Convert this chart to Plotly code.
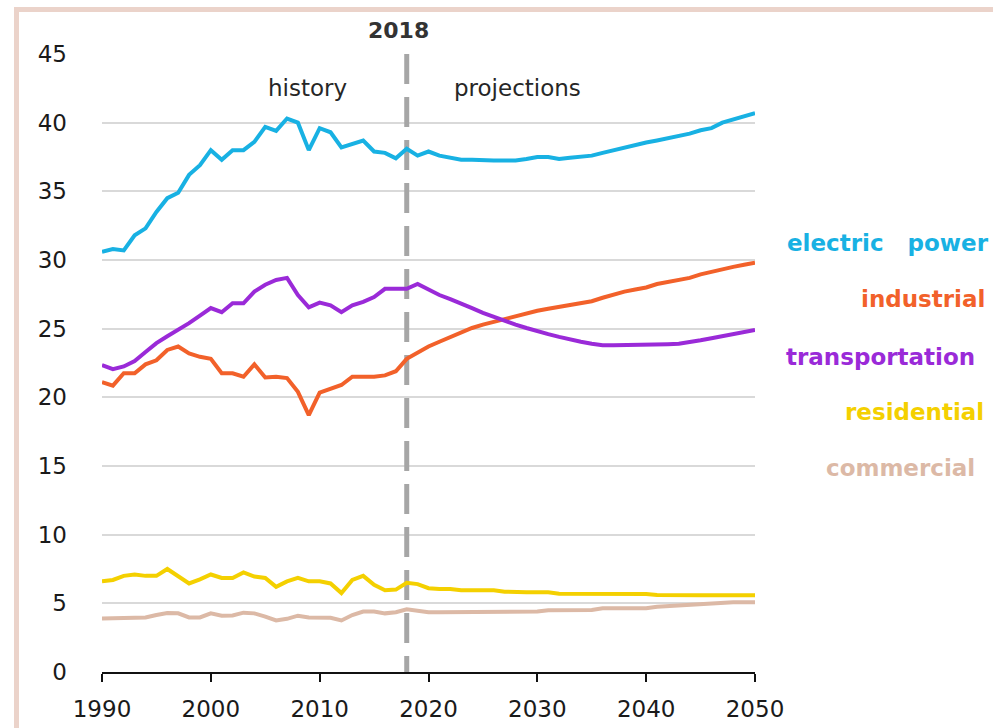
import plotly.graph_objects as go

# Energy-related CO2 emissions by end-use sector, 1990-2050
years = list(range(1990, 2051))
BASE_YEAR = 2018

electric_power = [
    30.6, 30.8, 30.7, 31.8, 32.3, 33.5, 34.5, 34.9, 36.2, 36.9,
    38.0, 37.3, 38.0, 38.0, 38.6, 39.7, 39.4, 40.3, 40.0, 38.0,
    39.6, 39.3, 38.2, 38.45, 38.7, 37.9, 37.8, 37.4, 38.1, 37.6,
    37.9, 37.6, 37.45, 37.3, 37.3, 37.25, 37.25, 37.25, 37.25, 37.35,
    37.5, 37.5, 37.35, 37.45, 37.5, 37.6, 37.8, 38.0, 38.15, 38.35,
    38.55, 38.7, 38.85, 39.0, 39.2, 39.45, 39.6, 40.0, 40.25, 40.45,
    40.7,
]
industrial = [
    21.1, 20.85, 21.75, 21.75, 22.4, 22.7, 23.45, 23.7, 23.2, 22.95,
    22.8, 21.75, 21.75, 21.5, 22.4, 21.45, 21.5, 21.4, 20.4, 18.7,
    20.35, 20.6, 20.9, 21.5, 21.5, 21.5, 21.6, 21.9, 22.8, 23.25,
    23.7, 24.05, 24.4, 24.7, 25.05, 25.3, 25.5, 25.7, 25.95, 26.1,
    26.3, 26.45, 26.6, 26.75, 26.85, 27.0, 27.25, 27.5, 27.7, 27.85,
    28.0, 28.25, 28.4, 28.55, 28.7, 28.95, 29.15, 29.3, 29.5, 29.65,
    29.8,
]
transportation = [
    22.35, 22.05, 22.25, 22.65, 23.3, 23.95, 24.45, 24.9, 25.4, 25.95,
    26.5, 26.2, 26.85, 26.85, 27.7, 28.2, 28.55, 28.7, 27.45, 26.55,
    26.9, 26.7, 26.2, 26.7, 26.95, 27.3, 27.9, 27.9, 27.9, 28.25,
    27.85, 27.45, 27.15, 26.85, 26.5, 26.15, 25.85, 25.55, 25.3, 25.05,
    24.8, 24.6, 24.4, 24.2, 24.05, 23.9, 23.8, 23.8, 23.8, 23.8,
    23.8, 23.8, 23.87, 23.9, 24.0, 24.15, 24.3, 24.45, 24.6, 24.75,
    24.9,
]
residential = [
    6.6, 6.7, 7.0, 7.1, 7.0, 7.0, 7.5, 6.95, 6.45, 6.75,
    7.1, 6.85, 6.85, 7.25, 6.95, 6.85, 6.2, 6.6, 6.85, 6.6,
    6.6, 6.45, 5.75, 6.7, 7.0, 6.35, 5.95, 6.0, 6.5, 6.4,
    6.1, 6.05, 6.05, 5.95, 5.95, 5.95, 5.95, 5.85, 5.8, 5.8,
    5.8, 5.8, 5.7, 5.7, 5.68, 5.68, 5.68, 5.68, 5.68, 5.68,
    5.68, 5.6, 5.58, 5.58, 5.58, 5.58, 5.58, 5.58, 5.58, 5.58,
    5.58,
]
commercial = [
    3.9, 3.9, 3.95, 3.97, 3.97, 4.15, 4.3, 4.27, 3.97, 3.97,
    4.27, 4.1, 4.12, 4.32, 4.27, 4.03, 3.75, 3.87, 4.1, 3.97,
    3.97, 3.95, 3.75, 4.15, 4.4, 4.4, 4.27, 4.35, 4.56, 4.45,
    4.35, 4.35, 4.35, 4.35, 4.35, 4.35, 4.35, 4.35, 4.35, 4.37,
    4.4, 4.5, 4.52, 4.52, 4.52, 4.52, 4.64, 4.64, 4.64, 4.64,
    4.64, 4.75, 4.8, 4.85, 4.92, 4.94, 4.95, 5.03, 5.08, 5.08,
    5.08,
]

sector_names = ["electric\u00a0\u00a0\u00a0power", "industrial", "transportation",
                "residential", "commercial"]
sector_values = [electric_power, industrial, transportation, residential, commercial]
sector_colors = ["#18b1e3", "#f2612a", "#9a2ad8", "#f4d000", "#dcb9a6"]
# label centres on the right-hand side, in pixels of the 993x728 page
label_px = [(888, 243), (923, 299), (880, 357), (915, 412), (900, 468)]

x_ticks = list(range(1990, 2051, 10))
y_ticks = list(range(0, 46, 5))

W, H = 993, 728
ML, MR, MT, MB = 102, 238, 54, 56
PW, PH = W - ML - MR, H - MT - MB


def paper_x(px):
    return (px - ML) / PW


def paper_y(py):
    return (H - MB - py) / PH


FONT = "DejaVu Sans"

fig = go.Figure()
for name, vals, col in zip(sector_names, sector_values, sector_colors):
    fig.add_trace(go.Scatter(
        x=years, y=vals, mode="lines", name=name,
        line=dict(color=col, width=4), hoverinfo="x+y+name",
    ))

# history / projections divider
fig.add_shape(type="line", xref="x", yref="y", x0=BASE_YEAR, x1=BASE_YEAR,
              y0=45, y1=0, layer="between",
              line=dict(color="#a6a6a6", width=5, dash="30px,13px"))

# light frame along the top and left edges of the page
fig.add_shape(type="rect", xref="paper", yref="paper",
              x0=paper_x(16.5), x1=paper_x(1020), y0=paper_y(9.5), y1=paper_y(760),
              line=dict(color="#ebd3ca", width=5), fillcolor="rgba(0,0,0,0)",
              layer="above")

ann = []
for name, col, (px, py) in zip(sector_names, sector_colors, label_px):
    ann.append(dict(text=f"<b>{name}</b>", xref="paper", yref="paper",
                    x=paper_x(px), y=paper_y(py), xanchor="center", yanchor="middle",
                    showarrow=False, font=dict(family=FONT, size=23, color=col)))
ann.append(dict(text="history", xref="paper", yref="paper",
                x=paper_x(307.5), y=paper_y(88), xanchor="center", yanchor="middle",
                showarrow=False, font=dict(family=FONT, size=23, color="#262626")))
ann.append(dict(text="projections", xref="paper", yref="paper",
                x=paper_x(517.5), y=paper_y(88), xanchor="center", yanchor="middle",
                showarrow=False, font=dict(family=FONT, size=23, color="#262626")))
ann.append(dict(text=f"<b>{BASE_YEAR}</b>", xref="paper", yref="paper",
                x=paper_x(398), y=paper_y(31), xanchor="center", yanchor="middle",
                showarrow=False, font=dict(family=FONT, size=22, color="#333333")))

fig.update_layout(
    width=W, height=H,
    margin=dict(l=ML, r=MR, t=MT, b=MB, pad=0, autoexpand=False),
    paper_bgcolor="white", plot_bgcolor="white",
    showlegend=False,
    font=dict(family=FONT, color="#1a1a1a"),
    annotations=ann,
    xaxis=dict(
        range=[1990, 2050], tickvals=x_ticks, ticktext=[str(t) for t in x_ticks],
        showgrid=False, zeroline=False, automargin=False,
        showline=True, linecolor="#111111", linewidth=2,
        ticks="outside", ticklen=8, tickwidth=2, tickcolor="#111111",
        ticklabelstandoff=7,
        tickfont=dict(family=FONT, size=23, color="#1a1a1a"),
    ),
    yaxis=dict(
        range=[0, 45], tickvals=y_ticks, ticktext=[str(t) for t in y_ticks],
        showgrid=True, gridcolor="#d9d9d9", gridwidth=1.5, zeroline=False,
        showline=False, ticks="", ticklabelstandoff=34, automargin=False,
        tickfont=dict(family=FONT, size=23, color="#1a1a1a"),
    ),
)

fig.write_html("out.html")
